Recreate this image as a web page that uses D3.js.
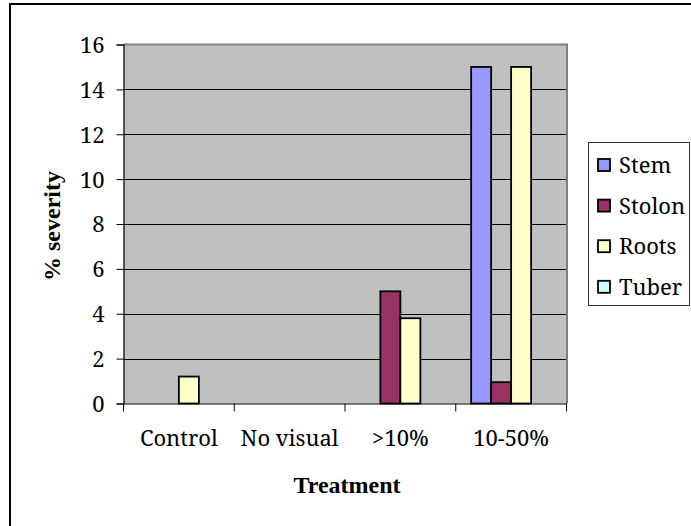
<!DOCTYPE html>
<html>
<head>
<meta charset="utf-8">
<script src="https://cdn.jsdelivr.net/npm/d3@7"></script>
<style>
  html, body { margin: 0; padding: 0; background: #fff; }
  svg { display: block; }
  text { fill: #000; }
  .reg { font-family: "Noto Serif", "DejaVu Serif", serif; font-size: 22px; font-weight: normal; }
  .bold { font-family: "Liberation Serif", "Times New Roman", serif; font-size: 24px; font-weight: bold; }
</style>
</head>
<body>
<svg id="chart" width="691" height="526"></svg>
<script>
// Disease severity by treatment and plant part
const categories = ["Control", "No visual", ">10%", "10-50%"];
const seriesNames = ["Stem", "Stolon", "Roots", "Tuber"];
const stemValues   = [0, 0, 0, 15];
const stolonValues = [0, 0, 5, 0.95];
const rootsValues  = [1.2, 0, 3.8, 15];
const tuberValues  = [0, 0, 0, 0];
const yTicks = [0, 2, 4, 6, 8, 10, 12, 14, 16];
const seriesColors = ["#9999FF", "#993366", "#FFFFCC", "#CCFFFF"];

const seriesValues = [stemValues, stolonValues, rootsValues, tuberValues];

const svg = d3.select("#chart");

// outer chart frame
svg.append("rect")
  .attr("x", 10).attr("y", 4)
  .attr("width", 700).attr("height", 600)
  .attr("fill", "#fff").attr("stroke", "#000").attr("stroke-width", 2);

const plot = { left: 123.5, right: 566.5, top: 44.5, bottom: 403.5 };

const x = d3.scaleBand()
  .domain(categories)
  .range([plot.left, plot.right])
  .paddingInner(0).paddingOuter(0);

const xInner = d3.scaleBand()
  .domain(seriesNames)
  .range([0, x.bandwidth()])
  .paddingInner(0).paddingOuter(0.77);

const y = d3.scaleLinear().domain([0, 16]).range([plot.bottom, plot.top]);

// plot background
svg.append("rect")
  .attr("x", plot.left).attr("y", plot.top)
  .attr("width", plot.right - plot.left).attr("height", plot.bottom - plot.top)
  .attr("fill", "#C0C0C0");

// gridlines
svg.append("g")
  .selectAll("line")
  .data(yTicks.filter(t => t > 0 && t < 16))
  .join("line")
  .attr("x1", plot.left).attr("x2", plot.right)
  .attr("y1", d => Math.round(y(d)) + 0.5).attr("y2", d => Math.round(y(d)) + 0.5)
  .attr("stroke", "#000").attr("stroke-width", 1);

// plot area border (top and right)
svg.append("path")
  .attr("d", `M${plot.left},${plot.top}H${plot.right + 0.5}V${plot.bottom}`)
  .attr("fill", "none").attr("stroke", "#808080").attr("stroke-width", 2);

// bars
const flat = [];
categories.forEach((c, ci) => {
  seriesNames.forEach((s, si) => {
    flat.push({ cat: c, series: s, value: seriesValues[si][ci], color: seriesColors[si] });
  });
});

svg.append("g")
  .selectAll("rect")
  .data(flat.filter(d => d.value > 0))
  .join("rect")
  .attr("x", d => x(d.cat) + xInner(d.series))
  .attr("y", d => y(d.value))
  .attr("width", xInner.bandwidth())
  .attr("height", d => y(0) - y(d.value))
  .attr("fill", d => d.color)
  .attr("stroke", "#000").attr("stroke-width", 1.8);

// y axis
const yAxis = d3.axisLeft(y).tickValues(yTicks).tickSize(7).tickPadding(12);
const gy = svg.append("g").attr("transform", `translate(${plot.left},0)`).call(yAxis);
gy.select(".domain").attr("stroke", "#000").attr("stroke-width", 1.2);
gy.selectAll(".tick line").attr("stroke", "#000");
gy.selectAll("text").attr("class", "reg").attr("fill", "#000").attr("dy", "0.36em");

// x axis
const xAxis = d3.axisBottom(x).tickSize(0).tickPadding(27);
const gx = svg.append("g").attr("transform", `translate(0,${plot.bottom})`).call(xAxis);
gx.select(".domain").attr("stroke", "#000").attr("stroke-width", 1.2);
gx.selectAll("text").attr("class", "reg").attr("fill", "#000");

// category boundary ticks
const bounds = categories.map(c => x(c)).concat([plot.right]);
svg.append("g")
  .selectAll("line")
  .data(bounds)
  .join("line")
  .attr("x1", d => d).attr("x2", d => d)
  .attr("y1", plot.bottom).attr("y2", plot.bottom + 8)
  .attr("stroke", "#000").attr("stroke-width", 1);

// axis titles
svg.append("text")
  .attr("class", "bold")
  .attr("x", 347).attr("y", 493)
  .attr("text-anchor", "middle")
  .text("Treatment");

svg.append("text")
  .attr("class", "bold")
  .attr("transform", `translate(60,226) rotate(-90)`)
  .attr("text-anchor", "middle")
  .text("% severity");

// legend
const legend = svg.append("g");
legend.append("rect")
  .attr("x", 588.5).attr("y", 142.5)
  .attr("width", 101).attr("height", 163)
  .attr("fill", "#fff").attr("stroke", "#333").attr("stroke-width", 1);

const items = legend.selectAll("g.item")
  .data(seriesNames.map((s, i) => ({ name: s, color: seriesColors[i] })))
  .join("g")
  .attr("class", "item")
  .attr("transform", (d, i) => `translate(598,${165 + i * 40.6})`);

items.append("rect")
  .attr("x", 0).attr("y", -6)
  .attr("width", 12).attr("height", 12)
  .attr("fill", d => d.color)
  .attr("stroke", "#000").attr("stroke-width", 1.8);

items.append("text")
  .attr("class", "reg")
  .attr("x", 21).attr("y", 0).attr("dy", "0.36em")
  .text(d => d.name);
</script>
</body>
</html>
